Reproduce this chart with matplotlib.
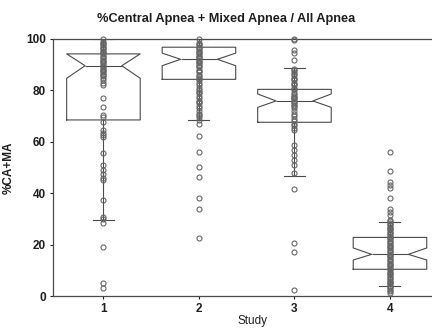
import matplotlib
matplotlib.use('Agg')
import matplotlib.pyplot as plt

plt.rcParams['font.family'] = ['Liberation Sans', 'DejaVu Sans']

# Box statistics, one entry per study
studies = [1, 2, 3, 4]
q1 = [68.5, 84.3, 67.6, 10.4]
median = [89.6, 92.1, 75.9, 16.2]
q3 = [94.2, 96.8, 80.4, 22.8]
notch_lo = [84.7, 89.6, 73.4, 14.0]
notch_hi = [94.2, 94.5, 78.6, 18.7]
whisker_lo = [29.6, 68.5, 46.8, 3.9]
whisker_hi = [100.0, 100.0, 88.8, 28.8]

# Individual values (circles) per study
study1 = [100, 99, 98.5, 98, 97.5, 97, 96.5, 96, 95.5, 95, 94.5, 94, 93.5, 93,
          92.5, 92, 91.5, 91, 90.5, 90, 89.5, 89, 88.5, 88, 87.5, 87, 86.5, 86,
          85.5, 85, 84, 83, 82, 77, 73.7, 70.4, 69.5, 67.8, 64.6, 63.5, 62.5,
          62, 55.6, 51, 49, 47.5, 46, 45, 37.4, 30.9, 29.8, 28.4, 19.2, 5, 3]
study2 = [100, 98.4, 98, 97.5, 97, 96.5, 96, 95.5, 95, 94.5, 94, 93.5, 93, 92.5,
          92, 91.5, 91, 90.5, 90, 89.5, 89, 88, 87.5, 87, 86, 85.5, 85, 84.5, 84,
          83, 82, 81, 80, 79.5, 79, 78, 77, 76, 75.5, 75, 74, 73, 72, 71, 70.5,
          69.5, 68.5, 67, 62.3, 56.2, 50.3, 46.4, 38.1, 33.9, 22.6]
study3 = [100, 99.6, 95.7, 94.5, 91.8, 88.5, 88, 87, 86.5, 86, 85, 84.5, 84, 83,
          82.5, 82, 81, 80.5, 80, 79, 78.5, 78, 77.5, 77, 76.5, 76, 75.5, 75,
          74.5, 74, 73, 72, 71, 70, 69, 68, 67, 66.5, 65.5, 64.6, 58.8, 56.8,
          54.9, 52.9, 51, 48, 41.6, 20.7, 17, 2.3]
study4 = [56.2, 48.6, 44.5, 43.3, 41.9, 38, 34, 32.5, 31.5, 29.5, 29, 28.5, 28,
          27.5, 27, 26.5, 26, 25.5, 25, 24.5, 24, 23.5, 23, 22.5, 22, 21.5, 21,
          20.5, 20, 19.5, 19, 18.5, 18, 17.5, 17, 16.5, 16, 15.5, 15, 14.5, 14,
          13.5, 13, 12.5, 12, 11.5, 11, 10.5, 10, 9.5, 9, 8.5, 8, 7.5, 7, 6.5, 6,
          5.5, 5, 4.5, 4, 3.5, 3, 2.5, 2, 1.2]
values = [study1, study2, study3, study4]

line_col = '#4a4a4a'
dot_col = '#666666'
text_col = '#1e1e1e'

fig = plt.figure(figsize=(4.32, 3.29), dpi=100)
ax = fig.add_axes([0.1227, 0.1003, 0.8773, 0.7812])

stats = []
for i in range(len(studies)):
    stats.append({'med': median[i], 'q1': q1[i], 'q3': q3[i],
                  'cilo': notch_lo[i], 'cihi': notch_hi[i],
                  'whislo': whisker_lo[i], 'whishi': whisker_hi[i],
                  'fliers': []})

lp = dict(color=line_col, linewidth=0.8)
ax.bxp(stats, positions=studies, widths=0.77, capwidths=0.22,
       shownotches=True, showfliers=False,
       boxprops=lp, whiskerprops=lp, capprops=lp,
       medianprops=dict(color=line_col, linewidth=0.8))

for pos, vals in zip(studies, values):
    ax.plot([pos] * len(vals), vals, 'o', markersize=3.6,
            markerfacecolor='none', markeredgecolor=dot_col,
            markeredgewidth=0.8, linestyle='none', clip_on=False, zorder=3)

ax.set_xlim(0.472, 4.44)
ax.set_ylim(0, 100)
ax.set_yticks([0, 20, 40, 60, 80, 100])
ax.set_xticks(studies)
ax.set_xticklabels(['1', '2', '3', '4'])
ax.tick_params(axis='both', labelsize=8.5, length=2, width=0.8,
               colors=text_col, pad=3)
for lab in ax.get_xticklabels() + ax.get_yticklabels():
    lab.set_fontweight('bold')

for side in ['left', 'bottom', 'top']:
    ax.spines[side].set_color(line_col)
    ax.spines[side].set_linewidth(0.9)
ax.spines['right'].set_visible(False)

ax.set_title('%Central Apnea + Mixed Apnea / All Apnea', fontsize=9.2,
             fontweight='bold', color=text_col, pad=12, x=0.456)
ax.set_xlabel('Study', fontsize=8.5, color=text_col)
ax.xaxis.set_label_coords(0.527, -0.075)
ax.set_ylabel('%CA+MA', fontsize=8.5, color=text_col, fontweight='bold')
ax.yaxis.set_label_coords(-0.1, 0.5)

fig.savefig('out.png', dpi=100)
